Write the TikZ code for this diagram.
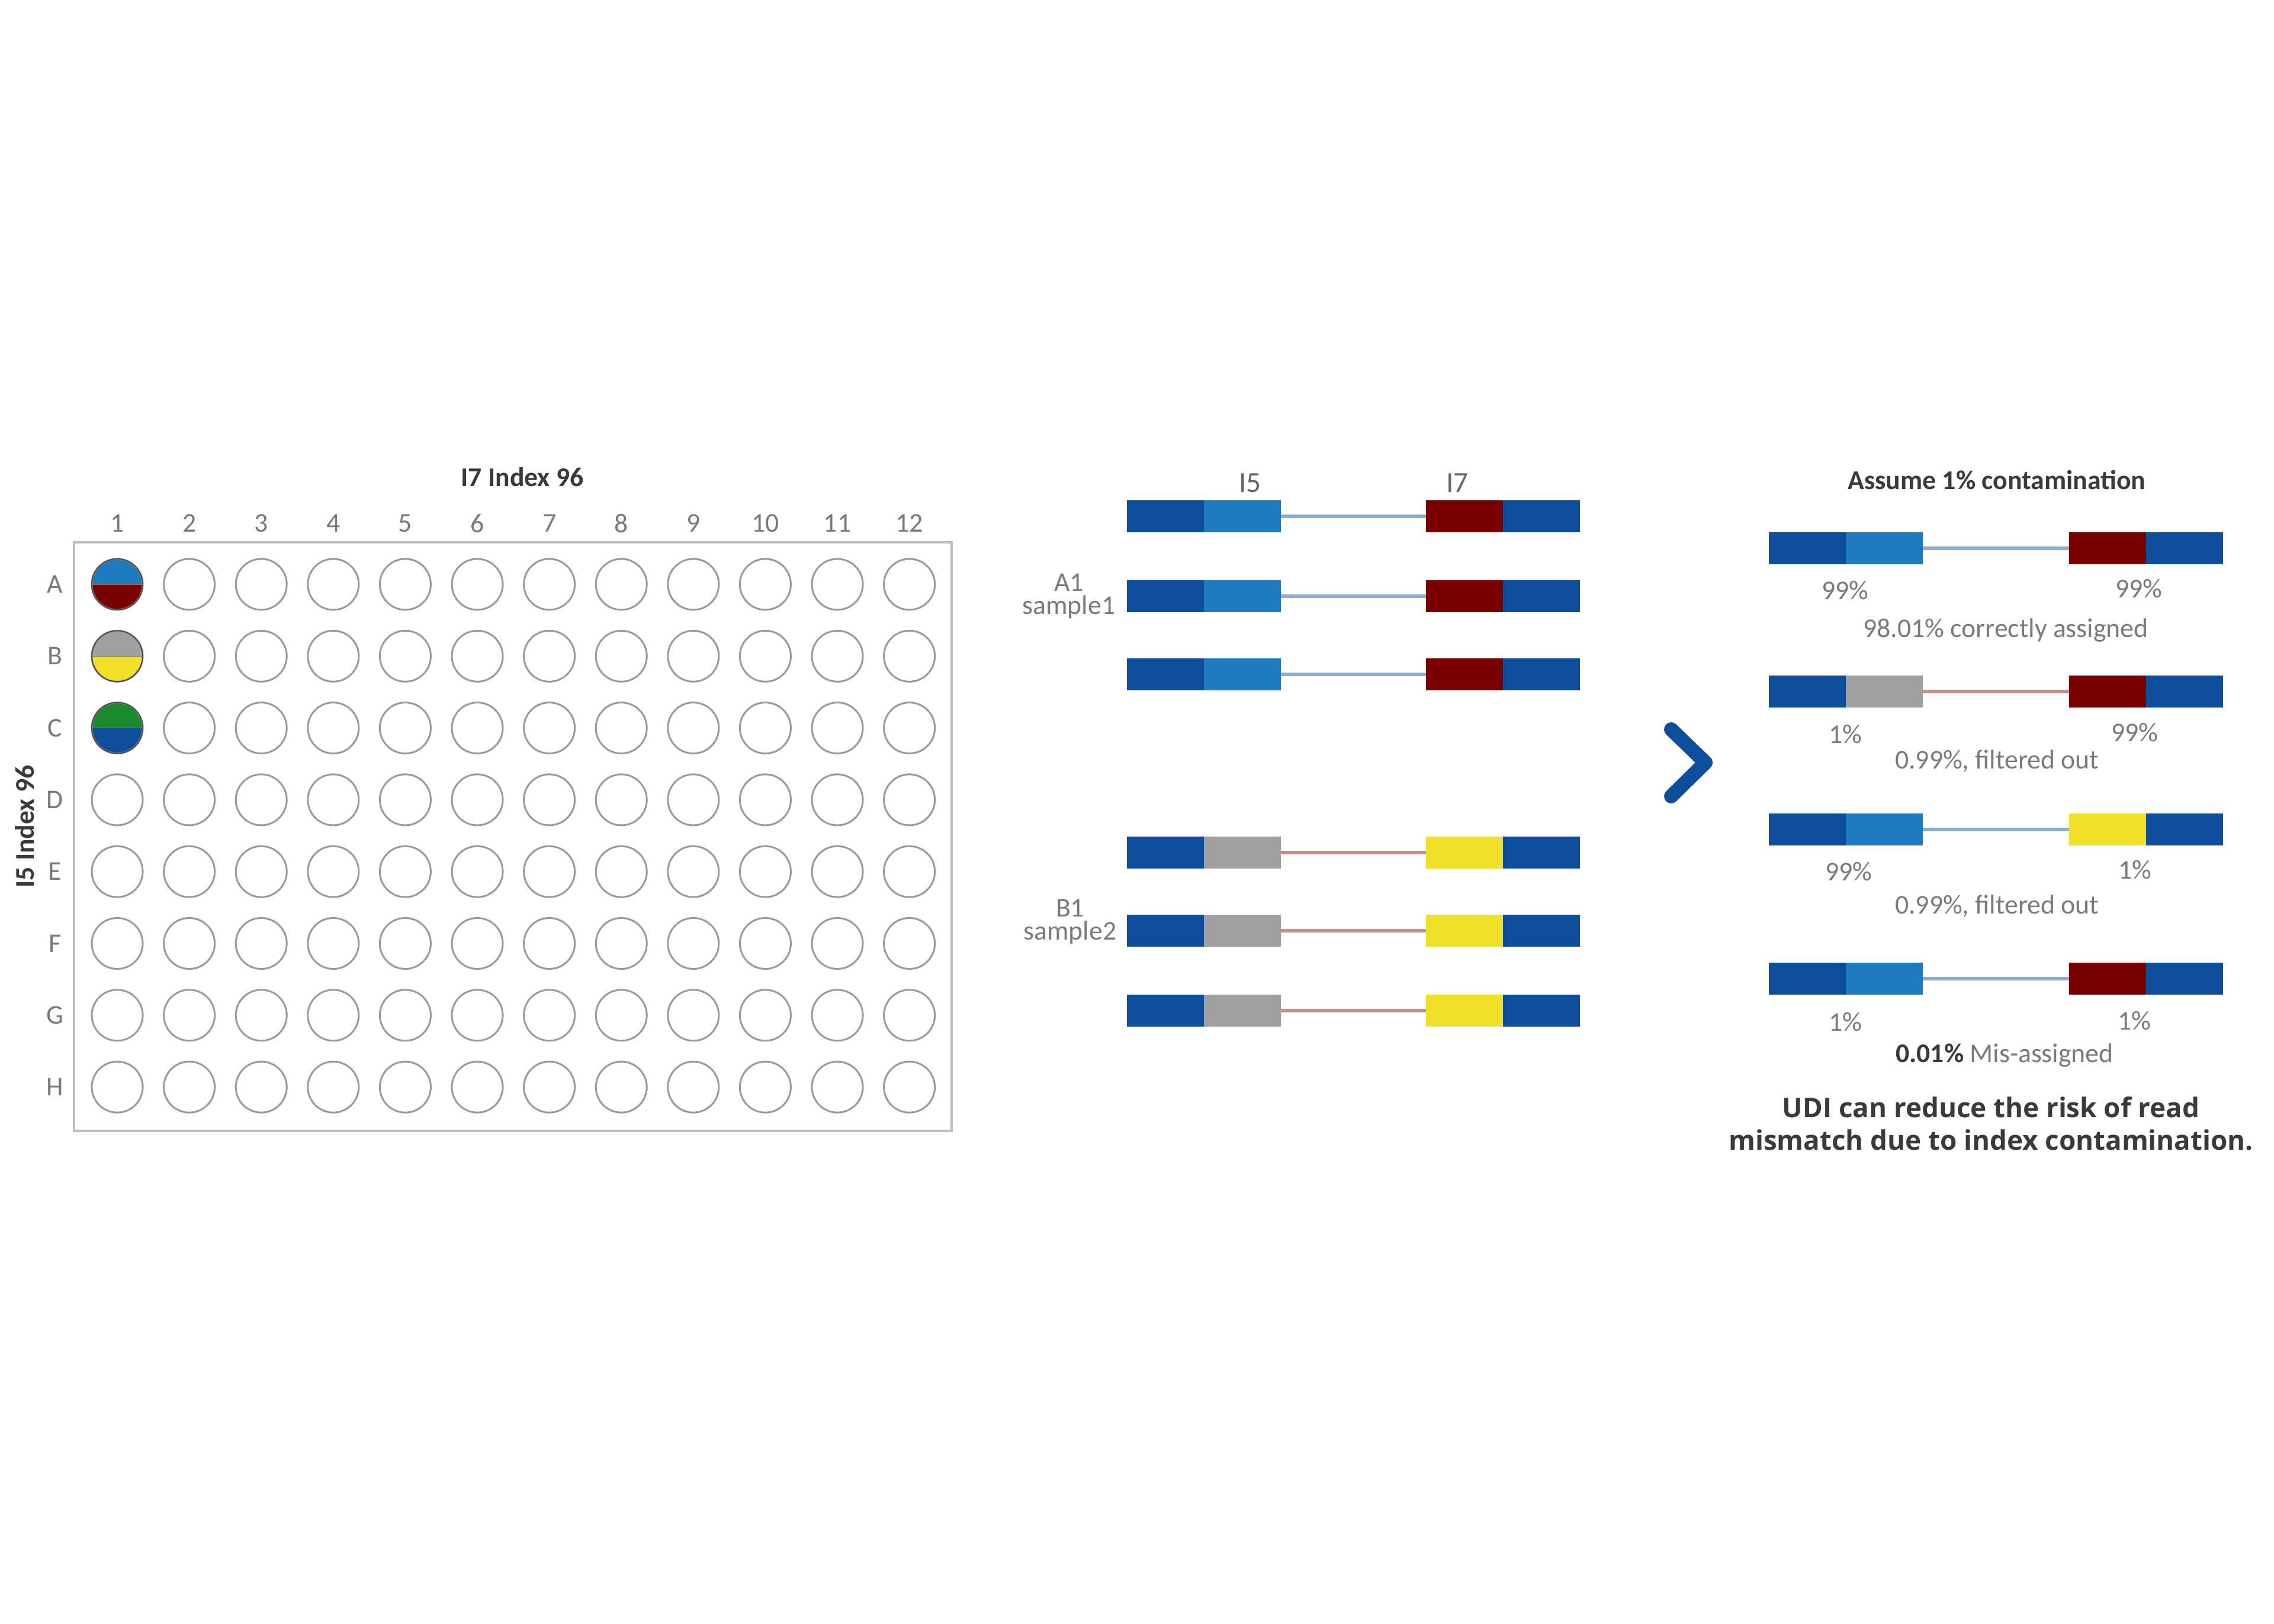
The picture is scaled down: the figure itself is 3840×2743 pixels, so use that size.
\documentclass[tikz,border=0pt]{standalone}
\usepackage{fontspec}
\setmainfont{Carlito}
\newfontfamily\udifont{Open Sans}
\definecolor{dblue}{HTML}{0C4E9C}
\definecolor{lblue}{HTML}{1F7BBF}
\definecolor{dred}{HTML}{7A0000}
\definecolor{ggray}{HTML}{A0A0A0}
\definecolor{yel}{HTML}{F2DF27}
\definecolor{grn}{HTML}{1A8A2C}
\definecolor{bline}{HTML}{8CADCF}
\definecolor{rline}{HTML}{C79090}
\definecolor{wellc}{HTML}{9A9A9A}
\definecolor{platec}{HTML}{BEBEBE}
\definecolor{lblc}{HTML}{7A7A7A}
\definecolor{hdr}{HTML}{3A3A3A}
\tikzset{
  seg/.style={minimum width=1.3cm, minimum height=0.54cm, inner sep=0pt, outer sep=0pt, draw=none},
  well/.style={circle, draw=wellc, line width=0.03cm, minimum size=0.86cm, inner sep=0pt},
  lbl/.style={text=lblc, font=\fontsize{13}{15}\selectfont, inner sep=0pt},
  hd/.style={text=hdr, font=\bfseries\fontsize{13}{15}\selectfont, inner sep=0pt},
  bl/.style={bline, line width=0.055cm},
  rl/.style={rline, line width=0.055cm}
}
\newcommand\dnabar[7]{%
  \node[seg,fill=dblue] (#1a) at (#2,#4) {};
  \node[seg,fill=#5,anchor=west] (#1b) at (#1a.east) {};
  \node[seg,fill=#6] (#1c) at (#3,#4) {};
  \node[seg,fill=dblue,anchor=west] (#1d) at (#1c.east) {};
  \draw[#7] (#1b.east) -- (#1c.west);
}
\begin{document}
\begin{tikzpicture}[x=0.01cm,y=-0.01cm]
\useasboundingbox (0,0) rectangle (3840,2743);
\fill[white] (0,0) rectangle (3840,2743);

% ---------- plate ----------
\node[draw=platec, line width=0.04cm, minimum width=14.82cm, minimum height=9.94cm, inner sep=0pt] (plate) at (866,1413) {};
\node[hd] (t7) at (882,806) {I7 Index 96};
\node[hd, rotate=90] (t5) at (42,1396) {I5 Index 96};

\foreach \c in {1,...,12} {
  \pgfmathsetmacro\xx{198+121.6*(\c-1)}
  \node[lbl] (col\c) at (\xx,884) {\c};
}
\foreach \r/\L in {1/A,2/B,3/C,4/D,5/E,6/F,7/G,8/H} {
  \pgfmathsetmacro\yy{987+121.3*(\r-1)}
  \node[lbl] (row\r) at (93,\yy) {\L};
}
% coloured wells
\begin{scope}
  \clip (198,987) circle (43);
  \fill[lblue] (140,930) rectangle (260,987);
  \fill[dred] (140,987) rectangle (260,1045);
\end{scope}
\begin{scope}
  \clip (198,1108) circle (43);
  \fill[ggray] (140,1050) rectangle (260,1108);
  \fill[yel] (140,1108) rectangle (260,1166);
\end{scope}
\begin{scope}
  \clip (198,1230) circle (43);
  \fill[grn] (140,1170) rectangle (260,1230);
  \fill[dblue] (140,1230) rectangle (260,1290);
\end{scope}
\foreach \r in {1,...,8} {
  \foreach \c in {1,...,12} {
    \pgfmathsetmacro\xx{198+121.6*(\c-1)}
    \pgfmathsetmacro\yy{987+121.3*(\r-1)}
    \node[well] (w\r-\c) at (\xx,\yy) {};
  }
}
\foreach \r in {1,2,3} {
  \node[circle, draw=black!70, line width=0.02cm, minimum size=0.86cm, inner sep=0pt] (cw\r) at (w\r-1) {};
  \draw[black!55, line width=0.012cm] (cw\r.west) -- (cw\r.east);
}

% ---------- middle: sequences ----------
\node[text=black!60, font=\fontsize{14}{16}\selectfont, inner sep=0pt] (lI5) at (2111,816) {I5};
\node[text=black!60, font=\fontsize{14}{16}\selectfont, inner sep=0pt] (lI7) at (2461,816) {I7};

\dnabar{m1}{1968}{2473}{872}{lblue}{dred}{bl}
\dnabar{m2}{1968}{2473}{1007}{lblue}{dred}{bl}
\dnabar{m3}{1968}{2473}{1139}{lblue}{dred}{bl}
\dnabar{m4}{1968}{2473}{1440}{ggray}{yel}{rl}
\dnabar{m5}{1968}{2473}{1572}{ggray}{yel}{rl}
\dnabar{m6}{1968}{2473}{1707}{ggray}{yel}{rl}

\node[lbl, align=center, font=\fontsize{13}{11}\selectfont] (s1) at (1805,1007) {A1\\sample1};
\node[lbl, align=center, font=\fontsize{13}{11}\selectfont] (s2) at (1807,1557) {B1\\sample2};

% chevron
\draw[dblue, line width=0.24cm, line cap=round, line join=round] (2822,1232) -- (2880,1288) -- (2822,1345);

% ---------- right: outcomes ----------
\node[hd] (ass) at (3372,811) {Assume 1\% contamination};

\dnabar{r1}{3052}{3559}{926}{lblue}{dred}{bl}
\dnabar{r2}{3052}{3559}{1168}{ggray}{dred}{rl}
\dnabar{r3}{3052}{3559}{1401}{lblue}{yel}{bl}
\dnabar{r4}{3052}{3559}{1653}{lblue}{dred}{bl}

\node[lbl] (p1l) at (3116,997) {99\%};
\node[lbl] (p1r) at (3612,994) {99\%};
\node[lbl] (c1) at (3387,1065) {98.01\% correctly assigned};
\node[lbl] (p2l) at (3116,1240) {1\%};
\node[lbl] (p2r) at (3605,1237) {99\%};
\node[lbl] (c2) at (3372,1286) {0.99\%, filtered out};
\node[lbl] (p3l) at (3122,1472) {99\%};
\node[lbl] (p3r) at (3605,1469) {1\%};
\node[lbl] (c3) at (3372,1531) {0.99\%, filtered out};
\node[lbl] (p4l) at (3116,1726) {1\%};
\node[lbl] (p4r) at (3604,1724) {1\%};
\node[lbl] (c4) at (3385,1783) {\textbf{\color{hdr}0.01\%} Mis-assigned};

\node[text=hdr, font=\udifont\bfseries\fontsize{13}{15.5}\selectfont, align=center, inner sep=0pt] (udi) at (3362,1898)
  {UDI can reduce the risk of read\\mismatch due to index contamination.};
\end{tikzpicture}
\end{document}
